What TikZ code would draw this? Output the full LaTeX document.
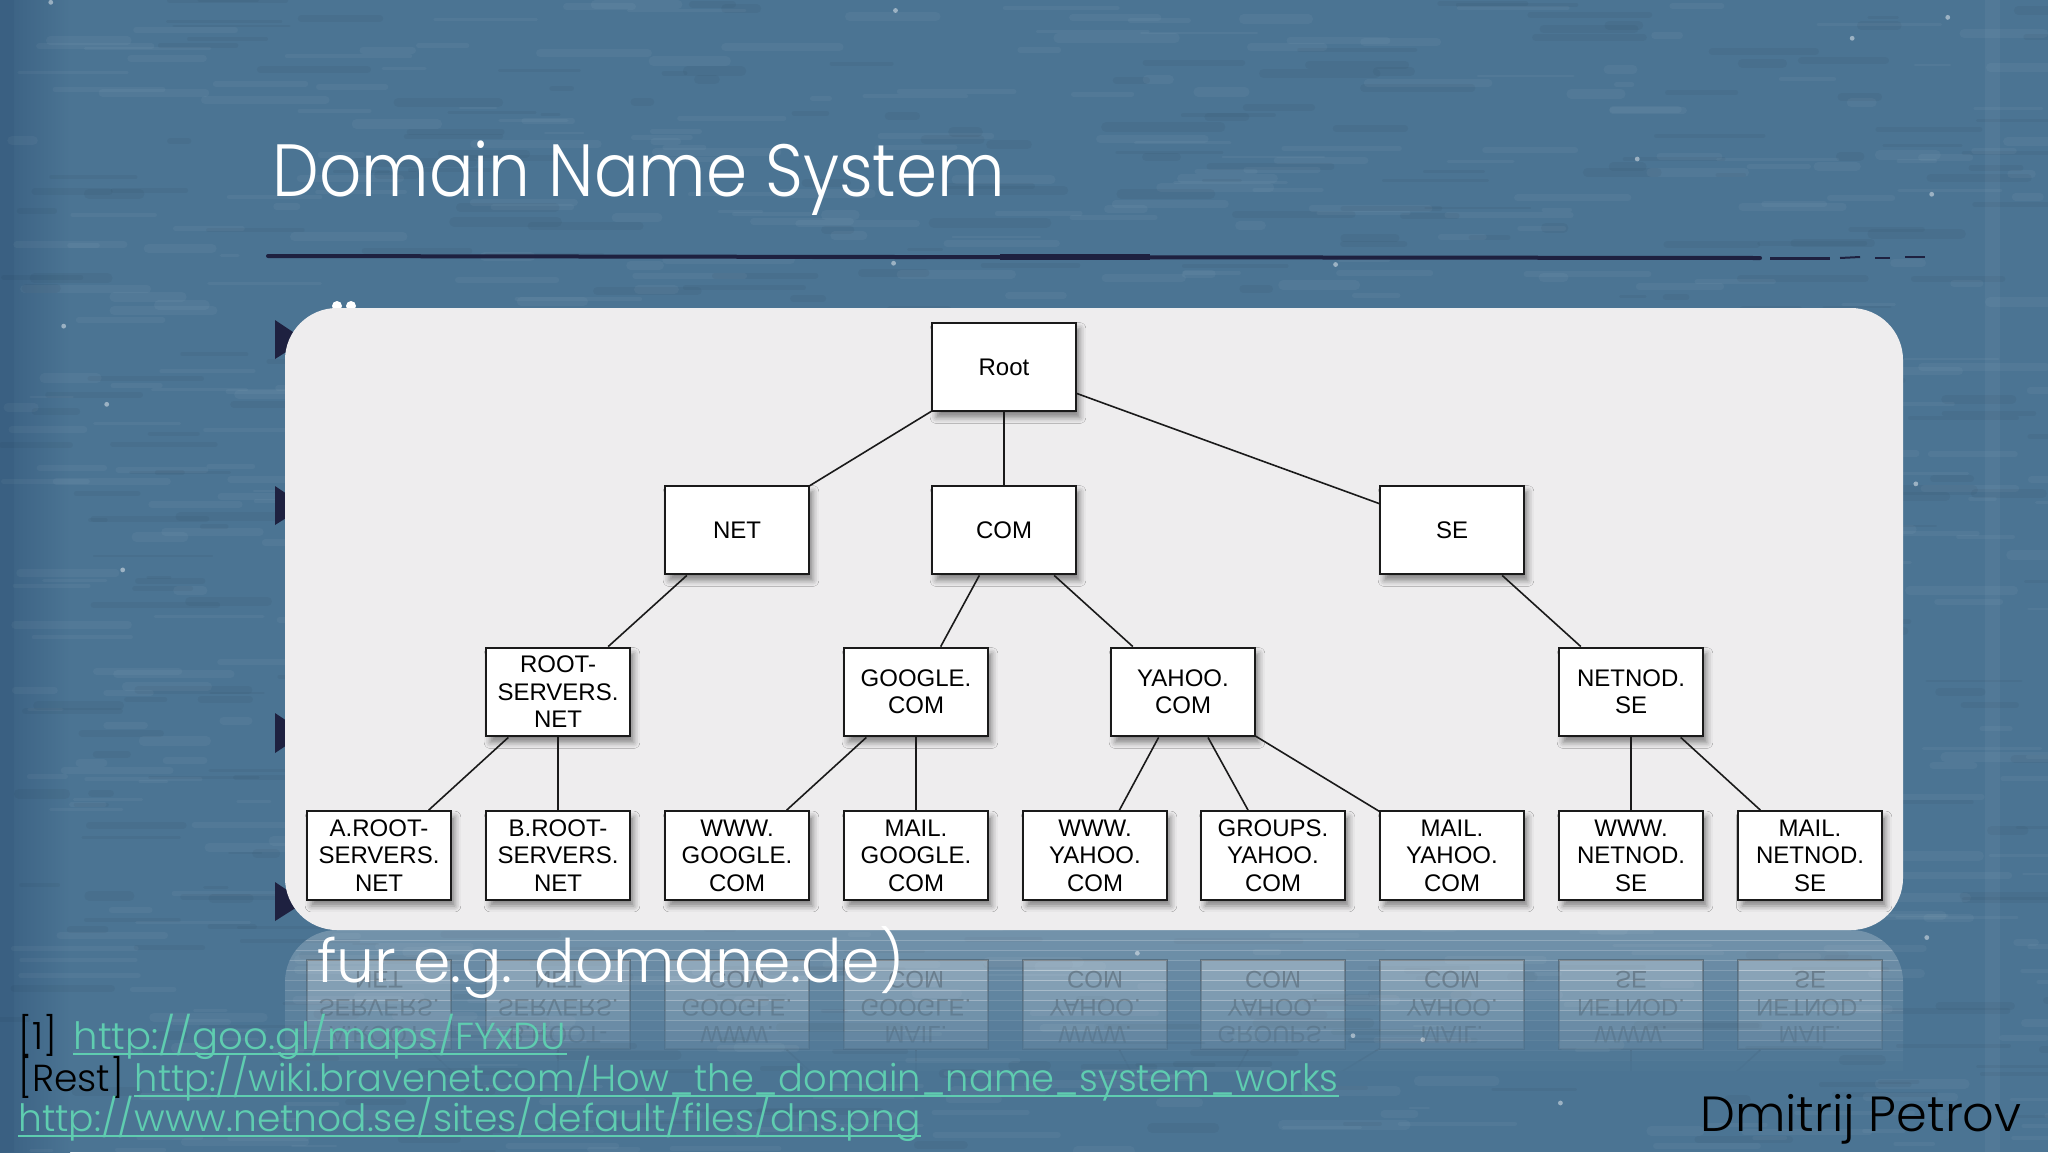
\documentclass[tikz,border=0pt]{standalone}
\usepackage{fontspec}
\setmainfont{Liberation Sans}
\newfontfamily\gothic{Poppins Light}
\usetikzlibrary{shadows.blur}
\definecolor{bgblue}{HTML}{4B7493}
\definecolor{bgdark}{HTML}{3A6082}
\definecolor{navy}{HTML}{1E2140}
\definecolor{panelgray}{HTML}{EEEDEE}
\definecolor{linkgreen}{HTML}{5FCDB0}
\definecolor{boxline}{HTML}{1A1A1A}
\tikzset{
  dnsbox/.style={draw=boxline, line width=1pt, fill=white,
    minimum width=71.8pt, minimum height=44.4pt, inner sep=0pt, align=center,
    font=\fontsize{12}{13.7}\selectfont,
    blur shadow={shadow xshift=2pt, shadow yshift=-3pt, shadow blur radius=3pt, shadow opacity=45}},
  reflbox/.style={draw=boxline, line width=1pt, fill=white,
    minimum width=71.8pt, minimum height=44.4pt, inner sep=0pt, align=center,
    font=\fontsize{12}{13.7}\selectfont},
  treelink/.style={draw=boxline, line width=0.8pt},
  slidetext/.style={inner sep=0pt, anchor=base west, font=\gothic},
  bullettri/.style={fill=navy, draw=none},
  reftext/.style={slidetext, font=\gothic\fontsize{18.8}{21}\selectfont},
}
\newcommand\mirrorlab[1]{\scalebox{1}[-1]{\begin{tabular}{@{}c@{}}#1\end{tabular}}}
% reflection content; \op and \opp hold the opacities of the current band
\newcommand\reflstuff{%
  \fill[white, opacity=\opp, rounded corners=26pt] (285,930) rectangle (1903,1300);
  \begin{scope}[opacity=\op]
  \node[reflbox] (ra) at (379,1004.5) {\mirrorlab{A.ROOT-\\SERVERS.\\NET}};
  \node[reflbox] (rb) at (558,1004.5) {\mirrorlab{B.ROOT-\\SERVERS.\\NET}};
  \node[reflbox] (rc) at (737,1004.5) {\mirrorlab{WWW.\\GOOGLE.\\COM}};
  \node[reflbox] (rd) at (916,1004.5) {\mirrorlab{MAIL.\\GOOGLE.\\COM}};
  \node[reflbox] (re) at (1095,1004.5) {\mirrorlab{WWW.\\YAHOO.\\COM}};
  \node[reflbox] (rf) at (1273,1004.5) {\mirrorlab{GROUPS.\\YAHOO.\\COM}};
  \node[reflbox] (rg) at (1452,1004.5) {\mirrorlab{MAIL.\\YAHOO.\\COM}};
  \node[reflbox] (rh) at (1631,1004.5) {\mirrorlab{WWW.\\NETNOD.\\SE}};
  \node[reflbox] (ri) at (1810,1004.5) {\mirrorlab{MAIL.\\NETNOD.\\SE}};
  \coordinate (rrsn) at (558,1168);
  \coordinate (rgoog) at (916,1168);
  \coordinate (ryahoo) at (1183,1168);
  \coordinate (rnetnod) at (1631,1168);
  \draw[treelink] (ra) -- (rrsn);
  \draw[treelink] (rb) -- (rrsn);
  \draw[treelink] (rc) -- (rgoog);
  \draw[treelink] (rd) -- (rgoog);
  \draw[treelink] (re) -- (ryahoo);
  \draw[treelink] (rf) -- (ryahoo);
  \draw[treelink] (rg) -- (ryahoo);
  \draw[treelink] (rh) -- (rnetnod);
  \draw[treelink] (ri) -- (rnetnod);
  \end{scope}
}
\begin{document}
\begin{tikzpicture}[x=0.5pt, y=-0.5pt]
\useasboundingbox (0,0) rectangle (2048,1152);
% background
\fill[bgblue] (0,0) rectangle (2048,1152);
\shade[left color=bgdark, right color=bgblue] (0,0) rectangle (70,1152);
\fill[bgdark] (0,0) rectangle (14,1152);
\pgfmathsetseed{42}
\foreach \i in {1,...,700}{
  \pgfmathsetmacro\xa{rnd*2048}
  \pgfmathsetmacro\ya{rnd*1152}
  \pgfmathsetmacro\ll{15+rnd*110}
  \pgfmathsetmacro\ww{1+rnd*4}
  \draw[white, opacity=0.04, line width=\ww pt, line cap=round] (\xa,\ya) -- ++(\ll,0);
}
\foreach \i in {1,...,500}{
  \pgfmathsetmacro\xa{rnd*2048}
  \pgfmathsetmacro\ya{rnd*1152}
  \pgfmathsetmacro\ll{15+rnd*110}
  \pgfmathsetmacro\ww{1+rnd*4}
  \draw[black, opacity=0.035, line width=\ww pt, line cap=round] (\xa,\ya) -- ++(\ll,0);
}
\foreach \i in {1,...,25}{
  \pgfmathsetmacro\xa{rnd*2048}
  \pgfmathsetmacro\ya{rnd*1152}
  \fill[white, opacity=0.45] (\xa,\ya) circle (1.2pt);
}
\fill[white, opacity=0.04] (1985,0) rectangle (2000,1152);
% title and rule
\node[slidetext, text=white, font=\gothic\fontsize{37}{40}\selectfont] (title) at (272,196) {\scalebox{0.893}[1]{Domain Name System}};
\draw[navy, line width=2pt, line cap=round] (268,256) -- (900,257) -- (1760,258);
\draw[navy, line width=2.6pt] (1000,257) -- (1150,257);
\draw[navy, line width=1.5pt] (1770,258) -- (1830,258);
\draw[navy, line width=1pt] (1840,258) -- (1860,257);
\draw[navy, line width=1pt] (1875,258) -- (1890,258);
\draw[navy, line width=0.8pt] (1905,257) -- (1925,257);
% bullet triangles behind the panel
\fill[bullettri] (275,320) -- (275,359) -- (305,340) -- cycle;
\fill[bullettri] (275,486) -- (275,525) -- (305,506) -- cycle;
\fill[bullettri] (275,713) -- (275,753) -- (305,733) -- cycle;
\fill[bullettri] (275,882) -- (275,921) -- (305,902) -- cycle;
\fill[white] (337,306) circle (2.5pt) (351,306) circle (2.5pt);
% panel
\fill[panelgray, rounded corners=26pt] (285,308) rectangle (1903,930);
% fading reflection below the panel
\foreach \k in {0,...,13}{
  \pgfmathsetmacro\op{0.32*(1-\k/14)}
  \pgfmathsetmacro\opp{0.22*(1-\k/14)}
  \begin{scope}
    \clip (270,{930+\k*10}) rectangle (1920,{940+\k*10});
    \reflstuff
  \end{scope}
}
% tree
\node[dnsbox] (root) at (1004,367) {Root};
\node[dnsbox] (net) at (737,530) {NET};
\node[dnsbox] (com) at (1004,530) {COM};
\node[dnsbox] (se) at (1452,530) {SE};
\node[dnsbox] (rsn) at (558,692) {ROOT-\\SERVERS.\\NET};
\node[dnsbox] (goog) at (916,692) {GOOGLE.\\COM};
\node[dnsbox] (yahoo) at (1183,692) {YAHOO.\\COM};
\node[dnsbox] (netnod) at (1631,692) {NETNOD.\\SE};
\node[dnsbox] (arn) at (379,855.5) {A.ROOT-\\SERVERS.\\NET};
\node[dnsbox] (brn) at (558,855.5) {B.ROOT-\\SERVERS.\\NET};
\node[dnsbox] (wg) at (737,855.5) {WWW.\\GOOGLE.\\COM};
\node[dnsbox] (mg) at (916,855.5) {MAIL.\\GOOGLE.\\COM};
\node[dnsbox] (wy) at (1095,855.5) {WWW.\\YAHOO.\\COM};
\node[dnsbox] (gy) at (1273,855.5) {GROUPS.\\YAHOO.\\COM};
\node[dnsbox] (my) at (1452,855.5) {MAIL.\\YAHOO.\\COM};
\node[dnsbox] (wn) at (1631,855.5) {WWW.\\NETNOD.\\SE};
\node[dnsbox] (mn) at (1810,855.5) {MAIL.\\NETNOD.\\SE};
\draw[treelink] (root) -- (net);
\draw[treelink] (root) -- (com);
\draw[treelink] (root) -- (se);
\draw[treelink] (net) -- (rsn);
\draw[treelink] (com) -- (goog);
\draw[treelink] (com) -- (yahoo);
\draw[treelink] (se) -- (netnod);
\draw[treelink] (rsn) -- (arn);
\draw[treelink] (rsn) -- (brn);
\draw[treelink] (goog) -- (wg);
\draw[treelink] (goog) -- (mg);
\draw[treelink] (yahoo) -- (wy);
\draw[treelink] (yahoo) -- (gy);
\draw[treelink] (yahoo) -- (my);
\draw[treelink] (netnod) -- (wn);
\draw[treelink] (netnod) -- (mn);
% slide texts
\node[slidetext, text=white, font=\gothic\fontsize{30}{34}\selectfont] (fur) at (317,982) {fur e.g. domane.de)};
\node[reftext, text=black] (lab1) at (18,1049) {[1]};
\node[reftext, text=linkgreen] (url1) at ([xshift=8pt]lab1.base east) {\scalebox{1.025}[1]{http://goo.gl/maps/FYxDU}};
\node[reftext, text=black] (lab2) at (18,1091) {[Rest]};
\node[reftext, text=linkgreen] (url2) at ([xshift=5pt]lab2.base east) {\scalebox{0.978}[1]{http://wiki.bravenet.com/How\_the\_domain\_name\_system\_works}};
\node[reftext, text=linkgreen] (url3) at (18,1131) {http://www.netnod.se/sites/default/files/dns.png};
\foreach \u in {url1,url2,url3}{
  \draw[linkgreen, line width=1.2pt] ([yshift=-2.5pt]\u.base west) -- ([yshift=-2.5pt]\u.base east);
}
\node[inner sep=0pt, anchor=base east, text=black, font=\gothic\fontsize{24.7}{28}\selectfont] (author) at (2022,1131) {Dmitrij Petrov};
\end{tikzpicture}
\end{document}
